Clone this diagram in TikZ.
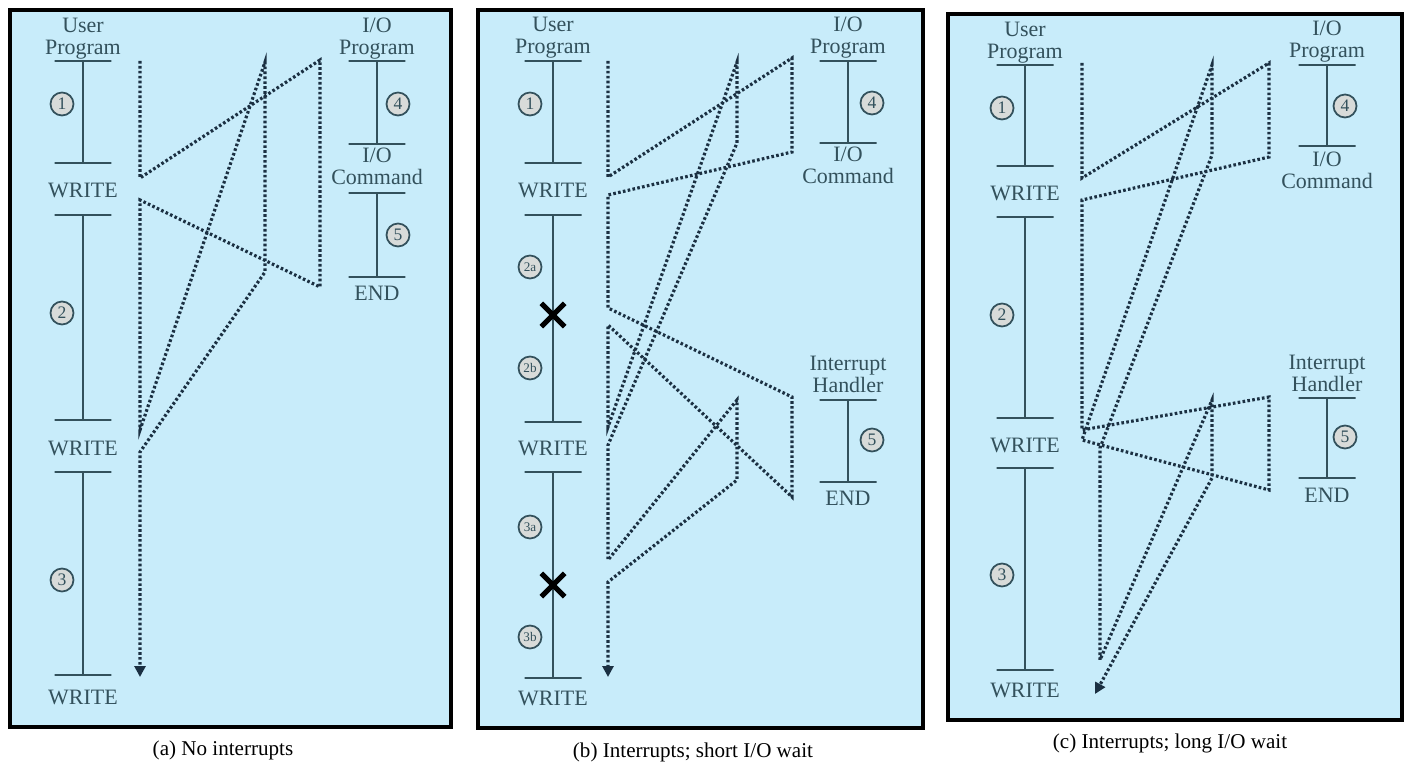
\documentclass[tikz,border=0pt]{standalone}
\usepackage{fontspec}
\setmainfont{Liberation Serif}
\usetikzlibrary{arrows.meta,shapes.misc}
\definecolor{PanelSky}{HTML}{C8ECFA}
\definecolor{TimeInk}{HTML}{33515C}
\definecolor{FlowInk}{HTML}{1B3042}
\definecolor{DiscGrey}{HTML}{D8DBD9}

\begin{document}
\begin{tikzpicture}[x=0.02cm, y=-0.02cm,
  panel/.style={draw=black, line width=2.2pt, fill=PanelSky},
  tick/.style={draw=TimeInk, line width=1.1pt, minimum width=1.14cm,
               minimum height=0pt, inner sep=0pt, outer sep=0pt},
  seg/.style={draw=TimeInk, line width=1.1pt},
  lbl/.style={text=TimeInk, align=center, inner sep=0pt,
              font=\fontsize{12.5}{12.5}\selectfont},
  num/.style={circle, draw=TimeInk, fill=DiscGrey, line width=1pt,
              minimum size=0.46cm, inner sep=0pt, text=TimeInk,
              font=\fontsize{10}{10}\selectfont},
  subnum/.style={num, font=\fontsize{7.5}{7.5}\selectfont},
  xmark/.style={cross out, draw=black, line width=3pt,
                minimum size=0.36cm, inner sep=0pt},
  flow/.style={draw=FlowInk, line width=1.8pt, dash pattern=on 1.5pt off 1.3pt},
  flowend/.style={flow, -{Triangle[length=0.22cm, width=0.22cm]}},
  caption/.style={font=\fontsize{12}{13}\selectfont, inner sep=0pt}
]
\useasboundingbox (0,0) rectangle (1406,763);

% (a) No interrupts
\draw[panel] (10,10) rectangle (451,727);
\node[lbl] (aUser) at (83,39) {User\\Program};
\node[tick] (aU0) at (83,61) {};
\node[tick] (aU1) at (83,163) {};
\node[lbl] (aW1) at (83,190) {WRITE};
\node[tick] (aU2) at (83,215) {};
\node[tick] (aU3) at (83,420) {};
\node[lbl] (aW2) at (83,448) {WRITE};
\node[tick] (aU4) at (83,472) {};
\node[tick] (aU5) at (83,675) {};
\node[lbl] (aW3) at (83,697) {WRITE};
\draw[seg] (aU0) -- (aU1) (aU2) -- (aU3) (aU4) -- (aU5);
\node[num] (aN1) at (62,104) {1};
\node[num] (aN2) at (62,313) {2};
\node[num] (aN3) at (62,580) {3};

\node[lbl] (aIO) at (377,39) {I/O\\Program};
\node[tick] (aI0) at (377,61) {};
\node[tick] (aI1) at (377,144) {};
\node[lbl] (aCmd) at (377,166) {I/O\\Command};
\node[tick] (aI2) at (377,193) {};
\node[tick] (aI3) at (377,277) {};
\node[lbl] (aEnd) at (377,293) {END};
\draw[seg] (aI0) -- (aI1) (aI2) -- (aI3);
\node[num] (aN4) at (398,104) {4};
\node[num] (aN5) at (398,235) {5};

\coordinate (aF0) at (140,61);
\coordinate (aF1) at (140,178);
\coordinate (aF2) at (320,60);
\coordinate (aF3) at (320,287);
\coordinate (aF4) at (140,200);
\coordinate (aF5) at (140,430);
\coordinate (aF6) at (265,62);
\coordinate (aF7) at (265,272);
\coordinate (aF8) at (140,452);
\coordinate (aF9) at (140,677);
\draw[flowend] (aF0) -- (aF1) -- (aF2) -- (aF3) -- (aF4) -- (aF5)
  -- (aF6) -- (aF7) -- (aF8) -- (aF9);
\node[caption] (aCap) at (223,750) {(a) No interrupts};

% (b) Interrupts; short I/O wait
\draw[panel] (478,10) rectangle (923,728);
\node[lbl] (bUser) at (553,38) {User\\Program};
\node[tick] (bU0) at (553,61) {};
\node[tick] (bU1) at (553,163) {};
\node[lbl] (bW1) at (553,190) {WRITE};
\node[tick] (bU2) at (553,215) {};
\node[tick] (bU3) at (553,422) {};
\node[lbl] (bW2) at (553,448) {WRITE};
\node[tick] (bU4) at (553,472) {};
\node[tick] (bU5) at (553,678) {};
\node[lbl] (bW3) at (553,698) {WRITE};
\draw[seg] (bU0) -- (bU1) (bU2) -- (bU3) (bU4) -- (bU5);
\node[num] (bN1) at (530,104) {1};
\node[subnum] (bN2a) at (530,267) {2a};
\node[subnum] (bN2b) at (530,368) {2b};
\node[subnum] (bN3a) at (530,527) {3a};
\node[subnum] (bN3b) at (530,637) {3b};
\node[xmark] (bX1) at (553,315) {};
\node[xmark] (bX2) at (553,585) {};

\node[lbl] (bIO) at (848,38) {I/O\\Program};
\node[tick] (bI0) at (848,61) {};
\node[tick] (bI1) at (848,143) {};
\node[lbl] (bCmd) at (848,165) {I/O\\Command};
\draw[seg] (bI0) -- (bI1);
\node[num] (bN4) at (872,103) {4};
\node[lbl] (bInt) at (848,374) {Interrupt\\Handler};
\node[tick] (bH0) at (848,400) {};
\node[tick] (bH1) at (848,482) {};
\node[lbl] (bEnd) at (848,498) {END};
\draw[seg] (bH0) -- (bH1);
\node[num] (bN5) at (872,440) {5};

\coordinate (bF0) at (608,61);
\coordinate (bF1) at (608,177);
\coordinate (bF2) at (792,58);
\coordinate (bF3) at (792,152);
\coordinate (bF4) at (608,195);
\coordinate (bF5) at (608,308);
\coordinate (bF6) at (792,397);
\coordinate (bF7) at (792,497);
\coordinate (bF8) at (608,325);
\coordinate (bF9) at (608,427);
\coordinate (bF10) at (737,62);
\coordinate (bF11) at (737,143);
\coordinate (bF12) at (608,445);
\coordinate (bF13) at (608,560);
\coordinate (bF14) at (737,400);
\coordinate (bF15) at (737,480);
\coordinate (bF16) at (608,582);
\coordinate (bF17) at (608,677);
\draw[flowend] (bF0) -- (bF1) -- (bF2) -- (bF3) -- (bF4) -- (bF5)
  -- (bF6) -- (bF7) -- (bF8) -- (bF9) -- (bF10) -- (bF11) -- (bF12)
  -- (bF13) -- (bF14) -- (bF15) -- (bF16) -- (bF17);
\node[caption] (bCap) at (693,752) {(b) Interrupts; short I/O wait};

% (c) Interrupts; long I/O wait
\draw[panel] (948,14) rectangle (1402,720);
\node[lbl] (cUser) at (1025,43) {User\\Program};
\node[tick] (cU0) at (1025,65) {};
\node[tick] (cU1) at (1025,166) {};
\node[lbl] (cW1) at (1025,193) {WRITE};
\node[tick] (cU2) at (1025,217) {};
\node[tick] (cU3) at (1025,418) {};
\node[lbl] (cW2) at (1025,445) {WRITE};
\node[tick] (cU4) at (1025,468) {};
\node[tick] (cU5) at (1025,670) {};
\node[lbl] (cW3) at (1025,690) {WRITE};
\draw[seg] (cU0) -- (cU1) (cU2) -- (cU3) (cU4) -- (cU5);
\node[num] (cN1) at (1002,108) {1};
\node[num] (cN2) at (1002,315) {2};
\node[num] (cN3) at (1002,575) {3};

\node[lbl] (cIO) at (1327,42) {I/O\\Program};
\node[tick] (cI0) at (1327,65) {};
\node[tick] (cI1) at (1327,146) {};
\node[lbl] (cCmd) at (1327,170) {I/O\\Command};
\draw[seg] (cI0) -- (cI1);
\node[num] (cN4) at (1345,106) {4};
\node[lbl] (cInt) at (1327,373) {Interrupt\\Handler};
\node[tick] (cH0) at (1327,398) {};
\node[tick] (cH1) at (1327,478) {};
\node[lbl] (cEnd) at (1327,495) {END};
\draw[seg] (cH0) -- (cH1);
\node[num] (cN5) at (1345,437) {5};

\coordinate (cF0) at (1082,63);
\coordinate (cF1) at (1082,178);
\coordinate (cF2) at (1269,63);
\coordinate (cF3) at (1269,157);
\coordinate (cF4) at (1082,200);
\coordinate (cF5) at (1082,430);
\coordinate (cF6) at (1269,397);
\coordinate (cF7) at (1269,490);
\coordinate (cF8) at (1082,440);
\coordinate (cF9) at (1212,65);
\coordinate (cF10) at (1212,155);
\coordinate (cF11) at (1100,448);
\coordinate (cF12) at (1100,660);
\coordinate (cF13) at (1212,400);
\coordinate (cF14) at (1212,478);
\coordinate (cF15) at (1095,694);
\draw[flowend] (cF0) -- (cF1) -- (cF2) -- (cF3) -- (cF4) -- (cF5)
  -- (cF6) -- (cF7) -- (cF8) -- (cF9) -- (cF10) -- (cF11) -- (cF12)
  -- (cF13) -- (cF14) -- (cF15);
\node[caption] (cCap) at (1170,743) {(c) Interrupts; long I/O wait};
\end{tikzpicture}
\end{document}
